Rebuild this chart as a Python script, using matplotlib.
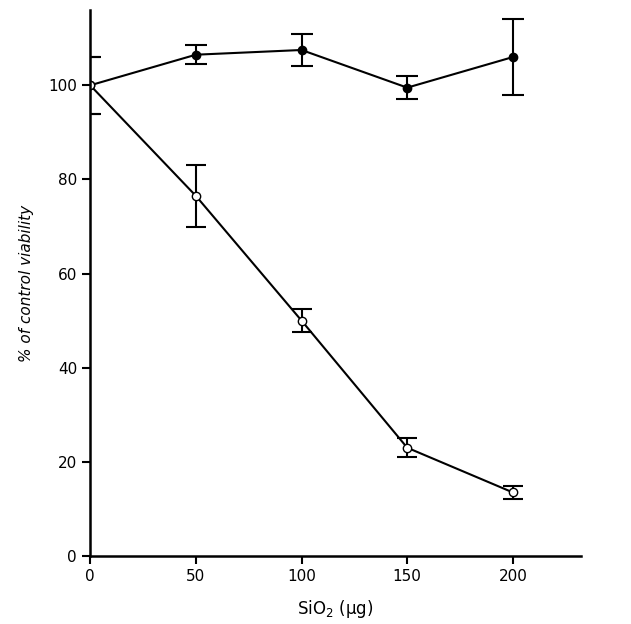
import matplotlib
matplotlib.use('Agg')
import matplotlib.pyplot as plt

dose = [0, 50, 100, 150, 200]
filled_mean = [100, 106.5, 107.5, 99.5, 106]
filled_err = [6, 2, 3.5, 2.5, 8]
open_mean = [100, 76.5, 50, 23, 13.5]
open_err = [6, 6.5, 2.5, 2, 1.3]

fig = plt.figure(figsize=(6.31, 6.24), dpi=100)
ax = fig.add_axes([0.143, 0.109, 0.777, 0.875])

ax.errorbar(dose, filled_mean, yerr=filled_err, fmt='-o', color='black',
            mfc='black', ms=6, lw=1.5, capsize=8, elinewidth=1.5, capthick=1.5)
ax.errorbar(dose, open_mean, yerr=open_err, fmt='-o', color='black',
            mfc='white', ms=6, lw=1.5, capsize=7, elinewidth=1.5, capthick=1.5)

ax.set_xlim(0, 232)
ax.set_ylim(0, 116)
ax.set_xticks(dose)
ax.set_yticks([0, 20, 40, 60, 80, 100])
for s in ['top', 'right']:
    ax.spines[s].set_visible(False)
for s in ['left', 'bottom']:
    ax.spines[s].set_linewidth(1.8)
ax.tick_params(width=1.5, length=6, labelsize=11)
ax.set_xlabel('SiO$_2$ (µg)', fontsize=12, labelpad=10)
ax.set_ylabel('% of control viability', fontsize=11, style='italic', labelpad=10)

fig.savefig('out.png', dpi=100, facecolor='white')
